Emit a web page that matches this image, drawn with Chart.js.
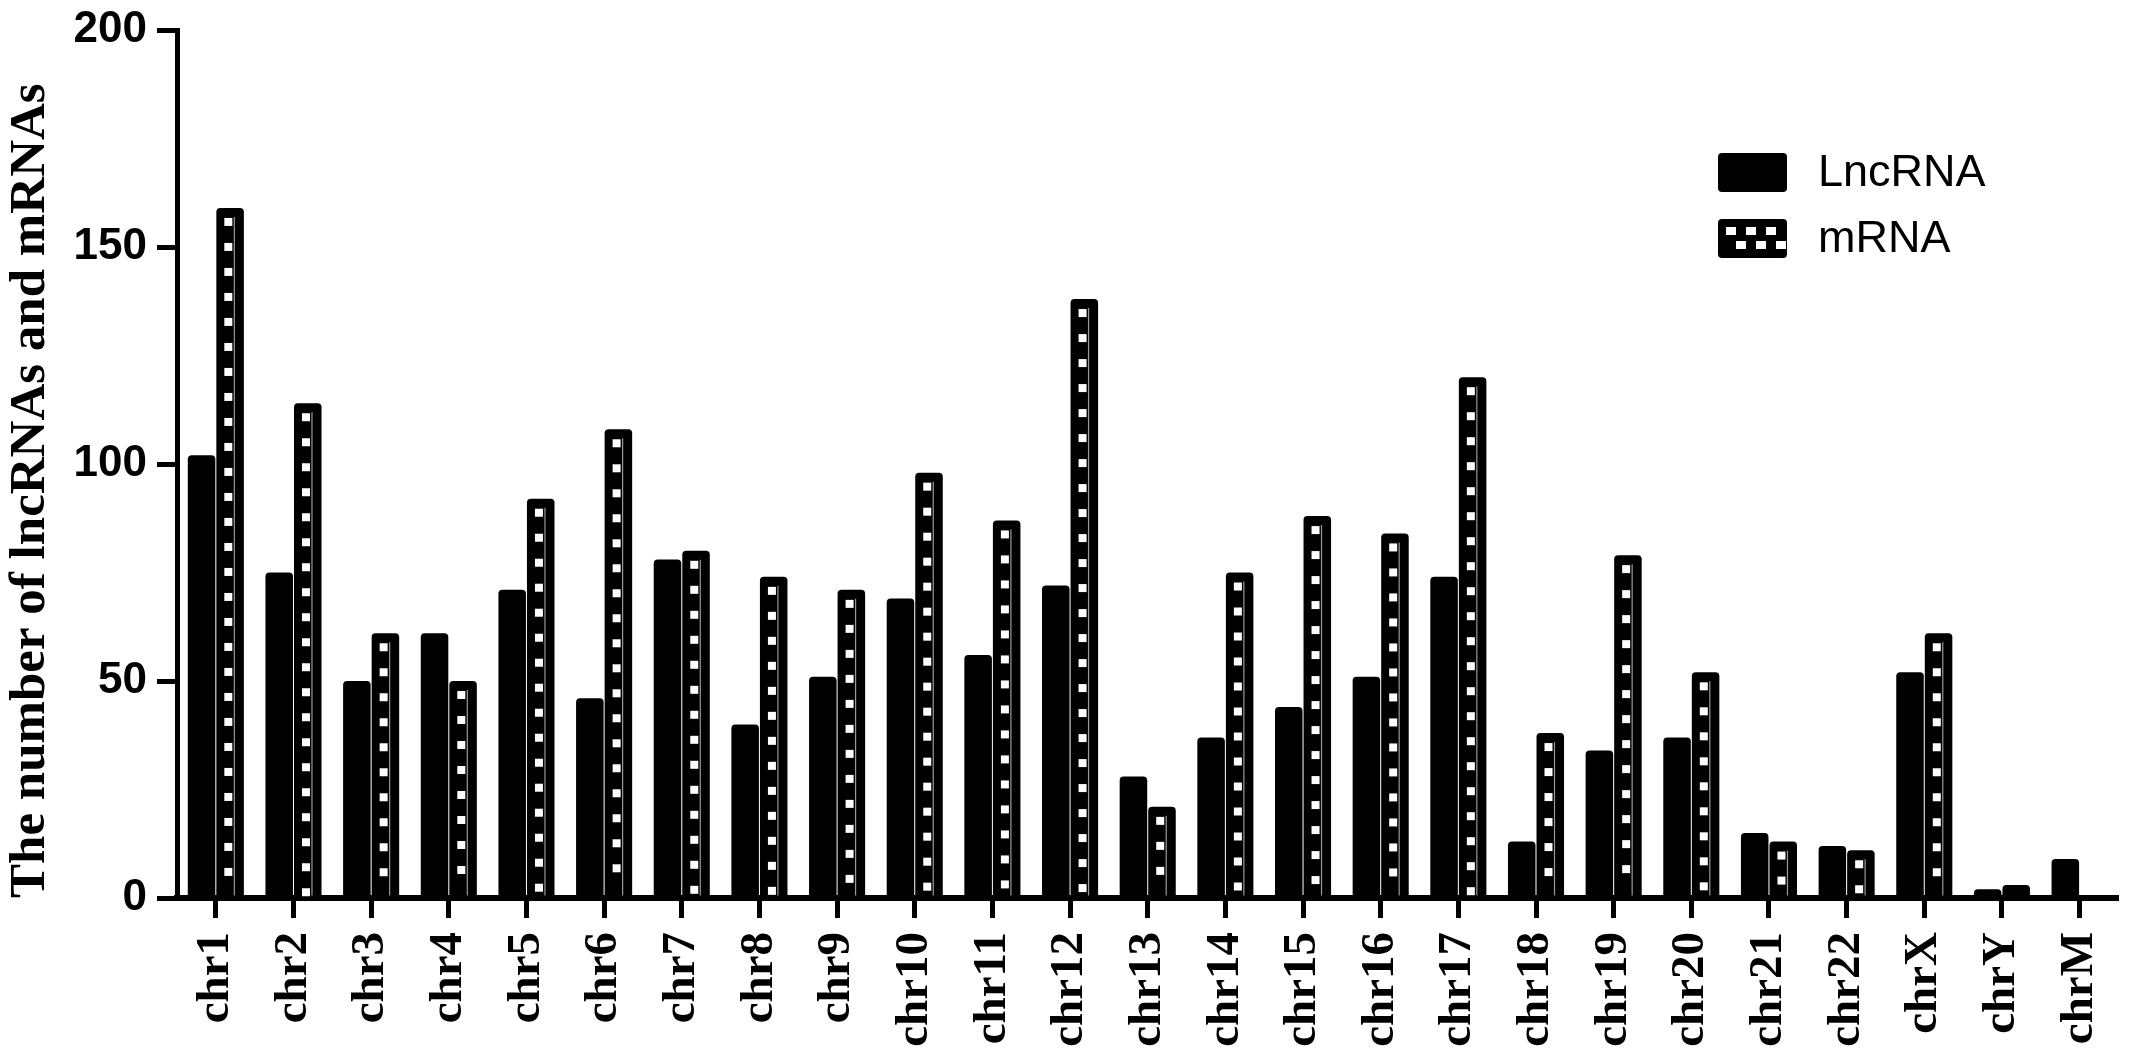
<!DOCTYPE html>
<html>
<head>
<meta charset="utf-8">
<script src="https://cdn.jsdelivr.net/npm/chart.js@4"></script>
<style>
  body { margin: 0; background: #fff; }
  #chart-box { width: 2150px; height: 1052px; }
</style>
</head>
<body>
<div id="chart-box"><canvas id="bar-chr" width="2150" height="1052"></canvas></div>
<script>
// values
const chromosomes = ["chr1","chr2","chr3","chr4","chr5","chr6","chr7","chr8","chr9","chr10",
  "chr11","chr12","chr13","chr14","chr15","chr16","chr17","chr18","chr19","chr20",
  "chr21","chr22","chrX","chrY","chrM"];
const lncRNA = [102,75,50,61,71,46,78,40,51,69,56,72,28,37,44,51,74,13,34,37,15,12,52,2,9];
const mRNA   = [159,114,61,50,92,108,80,74,71,98,87,138,21,75,88,84,120,38,79,52,13,11,61,3,0];
const seriesNames = ["LncRNA","mRNA"];
const yTickValues = [0,50,100,150,200];

// white squares down the mRNA bars (checker look)
const checkerPlugin = {
  id: "checker",
  afterDatasetsDraw(chart){
    const ctx = chart.ctx;
    const meta = chart.getDatasetMeta(1);
    ctx.save();
    meta.data.forEach(bar => {
      const left = bar.x - bar.width/2;
      const top = bar.y;
      const bottom = bar.base;
      if (bottom - top < 14) return;
      ctx.fillStyle = "#fff";
      for (let y = top + 10; y + 8 < bottom - 1; y += 25){
        ctx.fillRect(left + 8, y, 8, 8);
      }
      ctx.strokeStyle = "#9a9a9a";
      ctx.lineWidth = 1.2;
      ctx.beginPath();
      ctx.moveTo(left + 18, top + 9);
      ctx.lineTo(left + 18, bottom - 2);
      ctx.stroke();
    });
    ctx.restore();
  }
};

// legend in the top right corner
const legendPlugin = {
  id: "boxLegend",
  afterDraw(chart, args, opts){
    const ctx = chart.ctx;
    ctx.save();
    chart.data.datasets.forEach((ds, i) => {
      const x = opts.x, y = opts.y + i*opts.rowGap;
      ctx.fillStyle = "#000";
      ctx.beginPath();
      ctx.roundRect(x, y, opts.boxW, opts.boxH, 4);
      ctx.fill();
      if (i === 1){
        ctx.fillStyle = "#fff";
        // two rows, offset columns
        for (let c = 0; c < 3; c++){
          ctx.fillRect(x + 8 + c*20, y + 8, 10, 8);
          ctx.fillRect(x + 18 + c*20, y + 22, 10, 8);
        }
      }
      ctx.fillStyle = "#000";
      ctx.font = "45px 'Liberation Sans', Arial, sans-serif";
      ctx.textBaseline = "middle";
      ctx.textAlign = "left";
      ctx.fillText(ds.label, x + opts.textGap, y + opts.boxH/2 + 1);
    });
    ctx.restore();
  }
};

const ctx = document.getElementById("bar-chr");

const chrChart = new Chart(ctx, {
  type: "bar",
  data: {
    labels: chromosomes,
    datasets: [
      { label: seriesNames[0], data: lncRNA, backgroundColor: "#000", borderRadius: 4 },
      { label: seriesNames[1], data: mRNA, backgroundColor: "#000", borderRadius: 4 }
    ]
  },
  options: {
    responsive: false,
    animation: false,
    datasets: {
      bar: { categoryPercentage: 0.735, barPercentage: 0.965 }
    },
    layout: { padding: { top: 30, right: 0, bottom: 0, left: 0 } },
    plugins: {
      legend: { display: false },
      tooltip: { enabled: false },
      boxLegend: { x: 1718, y: 153, boxW: 69, boxH: 39, rowGap: 66, textGap: 100 }
    },
    scales: {
      x: {
        offset: true,
        grid: { offset: false, drawOnChartArea: false, drawTicks: true, tickLength: 20, tickWidth: 5, tickColor: "#000" },
        border: { display: true, width: 6, color: "#000" },
        ticks: {
          color: "#000",
          autoSkip: false,
          maxRotation: 90, minRotation: 90,
          padding: 14,
          font: { family: "'Liberation Serif', 'Times New Roman', serif", size: 47, weight: "bold" }
        },
        afterFit(scale){ scale.height = 154; }
      },
      y: {
        min: 0, max: 200,
        afterBuildTicks(axis){ axis.ticks = yTickValues.map(v => ({ value: v })); },
        grid: { drawOnChartArea: false, drawTicks: true, tickLength: 20, tickWidth: 5, tickColor: "#000" },
        border: { display: true, width: 5, color: "#000" },
        ticks: {
          color: "#000",
          padding: 10,
          font: { family: "'Liberation Sans', Arial, sans-serif", size: 44, weight: "bold", lineHeight: 0.9 }
        },
        title: {
          display: true,
          text: "The number of lncRNAs and mRNAs",
          align: "start",
          color: "#000",
          padding: 0,
          font: { family: "'Liberation Serif', 'Times New Roman', serif", size: 51, weight: "bold" }
        },
        afterFit(scale){ scale.width = 177; }
      }
    }
  },
  plugins: [checkerPlugin, legendPlugin]
});
</script>
</body>
</html>
